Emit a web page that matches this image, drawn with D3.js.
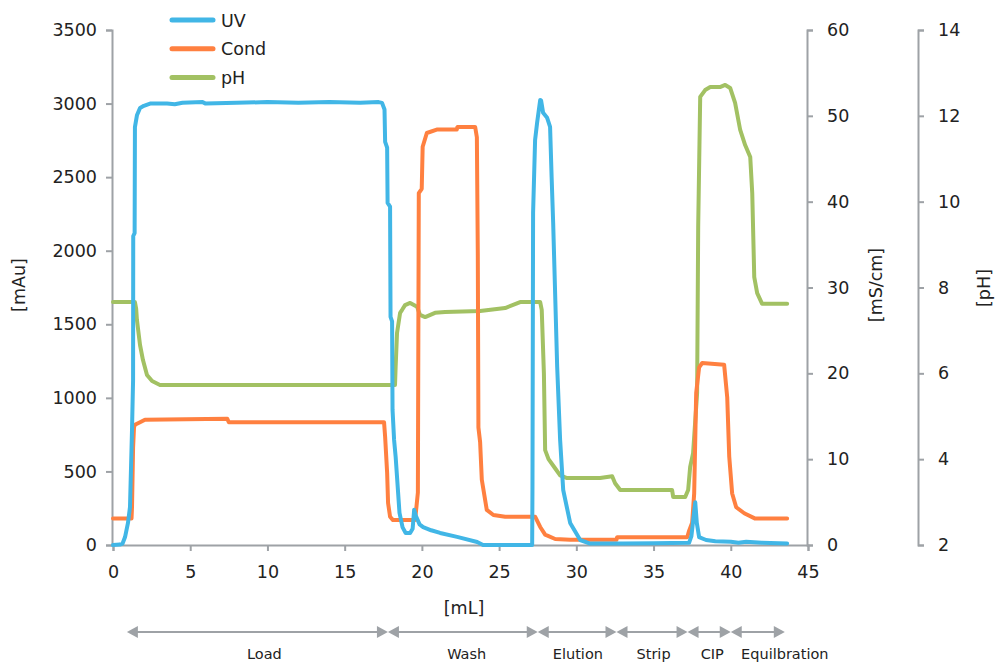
<!DOCTYPE html>
<html>
<head>
<meta charset="utf-8">
<script src="https://cdn.jsdelivr.net/npm/d3@7"></script>
<style>
  body { margin: 0; background: #fff; }
  svg { display: block; font-family: "DejaVu Sans", sans-serif; }
  .axis path, .axis line { stroke: #9ea2a6; stroke-width: 2; }
  .axis text { fill: #222; font-size: 17.5px; font-family: "DejaVu Sans", sans-serif; }
</style>
</head>
<body>
<svg id="chart" width="996" height="662"></svg>
<script>
// UV absorbance [mL, mAu]
const uvPoints = [
  [0, 0], [0.45, 3], [0.62, 10], [0.78, 54], [0.97, 150], [1.10, 258], [1.23, 780],
  [1.30, 1120], [1.31, 2100], [1.40, 2120], [1.42, 2840], [1.55, 2920], [1.75, 2970],
  [2.0, 2985], [2.4, 3000], [3.5, 3000], [4.0, 2995], [4.5, 3005], [5.8, 3010], [6.0, 3000],
  [8, 3005], [10, 3010], [12, 3005], [14, 3010], [16, 3005], [17.2, 3010], [17.42, 3005],
  [17.58, 2960], [17.62, 2740], [17.75, 2700], [17.78, 2325], [17.94, 2300], [17.97, 1550],
  [18.07, 1520], [18.10, 918], [18.20, 714], [18.30, 600], [18.55, 218], [18.75, 120],
  [18.95, 82], [19.24, 82], [19.40, 110], [19.50, 240], [19.60, 200], [19.85, 140],
  [20.08, 122], [20.6, 100], [21.18, 82], [22.28, 55], [23.58, 20], [23.96, 0],
  [27.14, 0], [27.16, 394], [27.20, 2257], [27.33, 2753], [27.46, 2869], [27.66, 3025],
  [27.72, 3020], [27.85, 2937], [28.11, 2903], [28.30, 2842], [28.40, 2500], [28.50, 2189],
  [28.76, 1210], [28.95, 714], [29.15, 374], [29.60, 150], [30.25, 34], [30.89, 10],
  [33, 10], [35, 12], [37.3, 15], [37.45, 60], [37.6, 200], [37.7, 290], [37.8, 150],
  [37.95, 54], [38.4, 34], [39, 25], [40, 22], [40.5, 15], [41, 22], [42, 15], [43.65, 10]
];

// Conductivity [mL, mS/cm]
const condPoints = [
  [0, 3.1], [1.20, 3.1], [1.23, 4.4], [1.30, 11.3], [1.36, 13.7], [1.42, 14.0], [1.75, 14.3],
  [2.07, 14.6], [7.4, 14.7], [7.5, 14.3], [17.55, 14.3], [17.62, 12.6], [17.75, 8.4],
  [17.81, 4.9], [17.94, 3.3], [18.13, 2.9], [19.56, 2.9], [19.74, 6.1], [19.77, 24],
  [19.80, 41.0], [19.99, 41.5], [20.05, 46.4], [20.32, 48.0], [20.96, 48.4], [22.26, 48.4],
  [22.30, 48.7], [23.45, 48.7], [23.56, 47.5], [23.62, 34.0], [23.66, 13.7], [23.77, 12],
  [23.88, 7.6], [24.20, 4.1], [24.63, 3.5], [25.39, 3.3], [27.33, 3.3], [27.66, 2.1],
  [27.98, 1.2], [28.63, 0.7], [29.6, 0.6], [32.6, 0.6], [32.64, 0.9], [37.18, 0.9],
  [37.31, 1.7], [37.50, 2.6], [37.63, 6.0], [37.76, 17.7], [37.95, 20.7], [38.15, 21.2],
  [39.57, 21.0], [39.77, 17.2], [39.90, 10.3], [40.09, 6.0], [40.35, 4.4], [40.87, 3.7],
  [41.55, 3.1], [43.65, 3.1]
];

// pH [mL, pH]
const phPoints = [
  [0, 7.66], [1.42, 7.66], [1.50, 7.5], [1.55, 7.24], [1.75, 6.66], [1.94, 6.31], [2.20, 5.96],
  [2.53, 5.82], [3.04, 5.73], [18.26, 5.73], [18.30, 6.15], [18.39, 6.94], [18.59, 7.41],
  [18.72, 7.48], [18.91, 7.59], [19.24, 7.64], [19.69, 7.55], [19.88, 7.36], [20.21, 7.31],
  [20.85, 7.41], [21.50, 7.43], [23.77, 7.45], [25.39, 7.52], [26.36, 7.66], [27.66, 7.66],
  [27.76, 7.48], [27.90, 6.0], [27.98, 4.21], [28.2, 4.0], [28.6, 3.8], [28.95, 3.62],
  [29.4, 3.56], [31.54, 3.56], [32.32, 3.6], [32.51, 3.44], [32.84, 3.28], [36.20, 3.28],
  [36.27, 3.12], [37.05, 3.12], [37.24, 3.28], [37.37, 3.82], [37.56, 4.14], [37.82, 5.54],
  [37.89, 9.41], [38.02, 12.44], [38.34, 12.6], [38.67, 12.67], [39.3, 12.67], [39.64, 12.72],
  [39.96, 12.65], [40.28, 12.30], [40.61, 11.67], [40.93, 11.32], [41.26, 11.04], [41.39, 10.2],
  [41.52, 8.24], [41.71, 7.87], [42.03, 7.62], [43.65, 7.62]
];

// Process phases: start / end [mL] and label position [mL]
const phaseNames = ["Load", "Wash", "Elution", "Strip", "CIP", "Equilbration"];
const phaseBounds = [0.9, 17.8, 27.5, 32.6, 37.2, 40.0, 43.5];
const phaseLabelX = [9.8, 22.9, 30.1, 35.0, 38.8, 43.5];

const xTicks = [0, 5, 10, 15, 20, 25, 30, 35, 40, 45];
const uvTicks = [0, 500, 1000, 1500, 2000, 2500, 3000, 3500];
const condTicks = [0, 10, 20, 30, 40, 50, 60];
const phTicks = [2, 4, 6, 8, 10, 12, 14];

const seriesNames = ["UV", "Cond", "pH"];
const colors = ["#41b6e6", "#ff8040", "#a2c163"];

const svg = d3.select("#chart");
const plotLeft = 113, plotRight = 808, plotTop = 30, plotBottom = 545;

const x = d3.scaleLinear().domain([0, 45]).range([plotLeft, plotRight]);
const yUV = d3.scaleLinear().domain([0, 3500]).range([plotBottom, plotTop]);
const yCond = d3.scaleLinear().domain([0, 60]).range([plotBottom, plotTop]);
const yPH = d3.scaleLinear().domain([2, 14]).range([plotBottom, plotTop]);

// axes
svg.append("g").attr("class", "axis")
  .attr("transform", `translate(0,${plotBottom})`)
  .call(d3.axisBottom(x).tickValues(xTicks).tickSize(6).tickPadding(15).tickFormat(d3.format("d")));

svg.append("g").attr("class", "axis")
  .attr("transform", `translate(${plotLeft - 1},0)`)
  .call(d3.axisLeft(yUV).tickValues(uvTicks).tickSize(6).tickPadding(9).tickFormat(d3.format("d")));

svg.append("g").attr("class", "axis")
  .attr("transform", `translate(${plotRight - 1},0)`)
  .call(d3.axisRight(yCond).tickValues(condTicks).tickSize(6).tickPadding(14).tickFormat(d3.format("d")));

svg.append("g").attr("class", "axis")
  .attr("transform", "translate(918,0)")
  .call(d3.axisRight(yPH).tickValues(phTicks).tickSize(6).tickPadding(14).tickFormat(d3.format("d")));

// axis titles
function rotLabel(tx, ty, txt) {
  svg.append("text")
    .attr("transform", `translate(${tx},${ty}) rotate(-90)`)
    .attr("text-anchor", "middle")
    .attr("font-size", 17.5)
    .attr("fill", "#222")
    .text(txt);
}
rotLabel(25, 285, "[mAu]");
rotLabel(882, 285, "[mS/cm]");
rotLabel(990, 288, "[pH]");

svg.append("text")
  .attr("x", 464).attr("y", 614)
  .attr("text-anchor", "middle")
  .attr("font-size", 17.5)
  .attr("fill", "#222")
  .text("[mL]");

// curves
const series = [
  { pts: uvPoints, y: yUV },
  { pts: condPoints, y: yCond },
  { pts: phPoints, y: yPH }
];

// draw pH first, then Cond, then UV on top
[2, 1, 0].forEach(i => {
  const s = series[i];
  const line = d3.line().x(d => x(d[0])).y(d => s.y(d[1]));
  svg.append("path")
    .datum(s.pts)
    .attr("fill", "none")
    .attr("stroke", colors[i])
    .attr("stroke-width", 4)
    .attr("stroke-linejoin", "round")
    .attr("stroke-linecap", "round")
    .attr("d", line);
});

// legend
const legend = svg.append("g");
seriesNames.forEach((name, i) => {
  const ly = 20 + i * 28.8;
  legend.append("line")
    .attr("x1", 172).attr("x2", 213)
    .attr("y1", ly).attr("y2", ly)
    .attr("stroke", colors[i])
    .attr("stroke-width", 5)
    .attr("stroke-linecap", "round");
  legend.append("text")
    .attr("x", 221).attr("y", ly + 6.5)
    .attr("font-size", 17.5)
    .attr("fill", "#222")
    .text(name);
});

// phase arrows
const arrowY = 632;
const grey = "#9ea2a6";
const phases = svg.append("g");
phaseNames.forEach((name, i) => {
  const x1 = x(phaseBounds[i]), x2 = x(phaseBounds[i + 1]);
  phases.append("line")
    .attr("x1", x1 + 4).attr("x2", x2 - 4)
    .attr("y1", arrowY).attr("y2", arrowY)
    .attr("stroke", grey).attr("stroke-width", 2);
  phases.append("path")
    .attr("d", `M${x1},${arrowY} L${x1 + 11},${arrowY - 6} L${x1 + 11},${arrowY + 6} Z`)
    .attr("fill", grey);
  phases.append("path")
    .attr("d", `M${x2},${arrowY} L${x2 - 11},${arrowY - 6} L${x2 - 11},${arrowY + 6} Z`)
    .attr("fill", grey);
  phases.append("text")
    .attr("x", x(phaseLabelX[i])).attr("y", 659)
    .attr("text-anchor", "middle")
    .attr("font-size", 14.5)
    .attr("fill", "#222")
    .text(name);
});
</script>
</body>
</html>
